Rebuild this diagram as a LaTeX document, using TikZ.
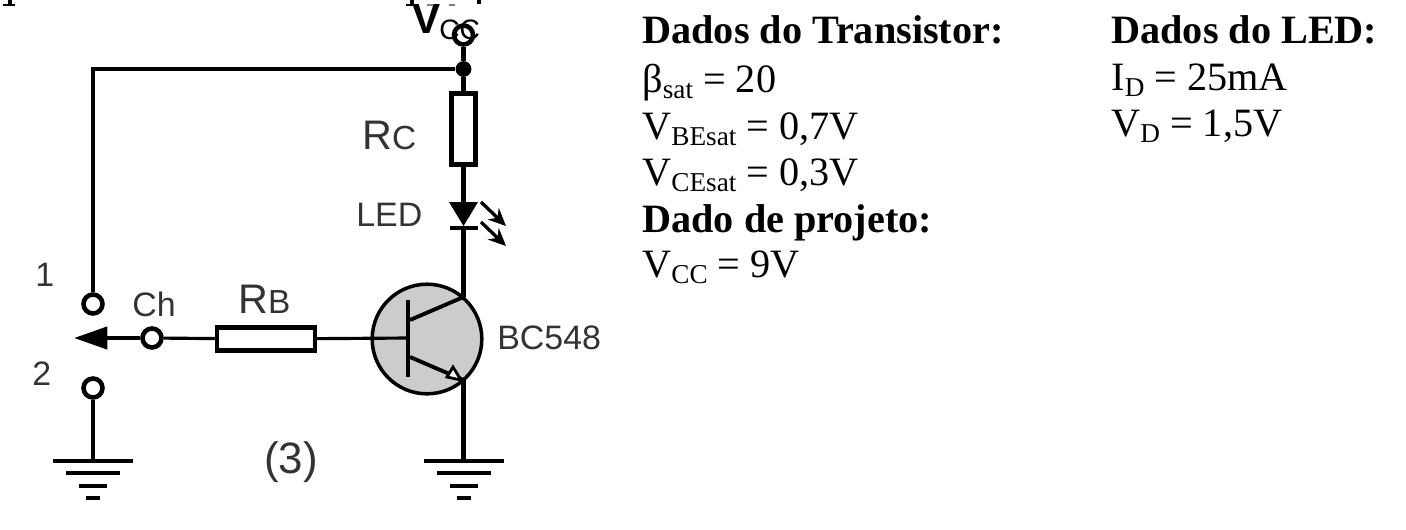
\documentclass[tikz,border=0pt]{standalone}
\usepackage{fontspec}
\setmainfont{Liberation Serif}
\setsansfont{Liberation Sans}
\usepackage{xcolor}
\usepackage{tikz}
\usetikzlibrary{arrows.meta,calc}
\definecolor{labelgray}{gray}{0.2}
\definecolor{bodygray}{gray}{0.8}
\tikzset{
  wire/.style={line width=2.6pt,black},
  basewire/.style={line width=1.8pt,black},
  terminal/.style={circle,draw=black,fill=white,line width=2.6pt,minimum size=10.8pt,inner sep=0pt},
  resistor/.style={rectangle,draw=black,fill=white,line width=2.6pt,inner sep=0pt},
  junction/.style={circle,fill=black,minimum size=9pt,inner sep=0pt},
  labeltext/.style={font=\sffamily\fontsize{19.3}{19.3}\selectfont,text=labelgray,inner sep=0pt,anchor=base west},
  rtext/.style={font=\sffamily\fontsize{23.5}{23.5}\selectfont,text=labelgray,inner sep=0pt,anchor=base west},
  datahead/.style={font=\bfseries\fontsize{22.9}{22.9}\selectfont,anchor=base west,inner sep=0pt},
  dataline/.style={font=\fontsize{22.9}{22.9}\selectfont,anchor=base west,inner sep=0pt},
}
\newcommand{\datasub}[1]{\raisebox{-0.16em}{\fontsize{15.5}{15.5}\selectfont #1}}
\begin{document}
\begin{tikzpicture}[x=0.02cm,y=-0.02cm]
\useasboundingbox (0,0) rectangle (1406,529);
% bits of the cut line at the top edge
\fill (8,0) rectangle (12,5);
\fill (3,4) rectangle (15,6);
\fill (410,0) rectangle (414,5);
\fill (406,4) rectangle (417,6);
\fill[gray] (427,4) rectangle (433,6);
\fill[gray] (449,4) rectangle (455,6);
\fill (477,0) rectangle (481,4);
% transistor
\node[circle,draw=black,fill=bodygray,line width=2pt,minimum size=62.4pt,inner sep=0pt] (bjt) at (427,339) {};
\coordinate (basebar) at (408,338);
\coordinate (collector) at (463.5,297);
\coordinate (emitter) at (463.5,380);
\draw[wire] (408,300) -- (408,377);
\draw[wire,line width=2.2pt] (410,320) -- (collector);
\draw[wire,line width=2.2pt] (410,357) -- (emitter);
\draw[line width=1.6pt,fill=white] (447,377) -- (453,367) -- (461,380) -- cycle;
% nodes of the two branches
\node[terminal] (vcc) at (463.5,35) {};
\node[junction] (top) at (463.5,69) {};
\node[resistor,minimum width=13.6pt,minimum height=40.3pt] (rc) at (463.5,129) {};
\coordinate (ledtop) at (463.5,203);
\coordinate (ledbar) at (463.5,228);
\coordinate (corner) at (93,69);
\node[terminal] (sw1) at (93,304) {};
\node[terminal] (sw2) at (93,388) {};
\node[terminal] (ch) at (152,338) {};
\node[resistor,minimum width=55.6pt,minimum height=13pt] (rb) at (266,339) {};
\coordinate (armtip) at (74,338);
\coordinate (gndleft) at (93,461);
\coordinate (gndright) at (463.5,461);
% wires
\draw[wire] (vcc) -- (top);
\draw[wire] (top) -- (rc);
\draw[wire] (top) -- (corner) -- (sw1);
\draw[wire] (rc) -- (ledtop);
\draw[wire] (ledbar) -- (collector);
\draw[wire] (emitter) -- (gndright);
\draw[wire] (sw2) -- (gndleft);
\draw[basewire] (ch) -- (rb);
\draw[basewire] (rb) -- (basebar);
\draw[wire,-{Triangle[length=19pt,width=12.5pt]}] (ch) -- (armtip);
% LED
\fill (449,202) -- (478,202) -- (463.5,226) -- cycle;
\draw[wire] (450,228) -- (478,228);
\foreach \dy in {0,20}
  \draw[line width=1.9pt,-{Stealth[length=10pt,width=9pt]}] (481,202+\dy) -- (506,226+\dy);
% grounds
\foreach \gnd in {gndleft,gndright}{
  \draw[wire] ($(\gnd)+(-40,0)$) -- ($(\gnd)+(40,0)$);
  \draw[wire] ($(\gnd)+(-27,12)$) -- ($(\gnd)+(27,12)$);
  \draw[wire] ($(\gnd)+(-14,25)$) -- ($(\gnd)+(14,25)$);
  \draw[wire] ($(\gnd)+(-7,37)$) -- ($(\gnd)+(7,37)$);
}
% labels
\node[font=\sffamily\bfseries\fontsize{24}{24}\selectfont,inner sep=0pt,anchor=base west] (vlabel) at (412,33) {V};
\node[font=\sffamily\fontsize{16}{16}\selectfont,inner sep=0pt,anchor=base west] (cclabel) at (439,39) {CC};
\node[rtext] (rclabel) at (362,149) {R\fontsize{19}{19}\selectfont C};
\node[rtext] (rblabel) at (238,313) {R\fontsize{19}{19}\selectfont B};
\node[labeltext] (ledlabel) at (356,226) {LED};
\node[labeltext] (chlabel) at (132,316) {Ch};
\node[labeltext] (bclabel) at (497,349) {BC548};
\node[labeltext] (onelabel) at (35,286) {1};
\node[labeltext] (twolabel) at (32,385) {2};
\node[rtext,font=\sffamily\fontsize{25}{25}\selectfont] (threelabel) at (264,473) {(3)};
% data
\node[datahead] (headtr) at (642,43) {Dados do Transistor:};
\node[dataline] (beta) at (642,92) {β\datasub{sat} = 20};
\node[dataline] (vbe) at (642,139) {V\datasub{BEsat} = 0,7V};
\node[dataline] (vce) at (642,185) {V\datasub{CEsat} = 0,3V};
\node[datahead] (headpr) at (642,232) {Dado de projeto:};
\node[dataline] (vccdata) at (642,277) {V\datasub{CC} = 9V};
\node[datahead] (headled) at (1111,43) {Dados do LED:};
\node[dataline] (idata) at (1111,90) {I\datasub{D} = 25mA};
\node[dataline] (vdata) at (1111,136) {V\datasub{D} = 1,5V};
\end{tikzpicture}
\end{document}
